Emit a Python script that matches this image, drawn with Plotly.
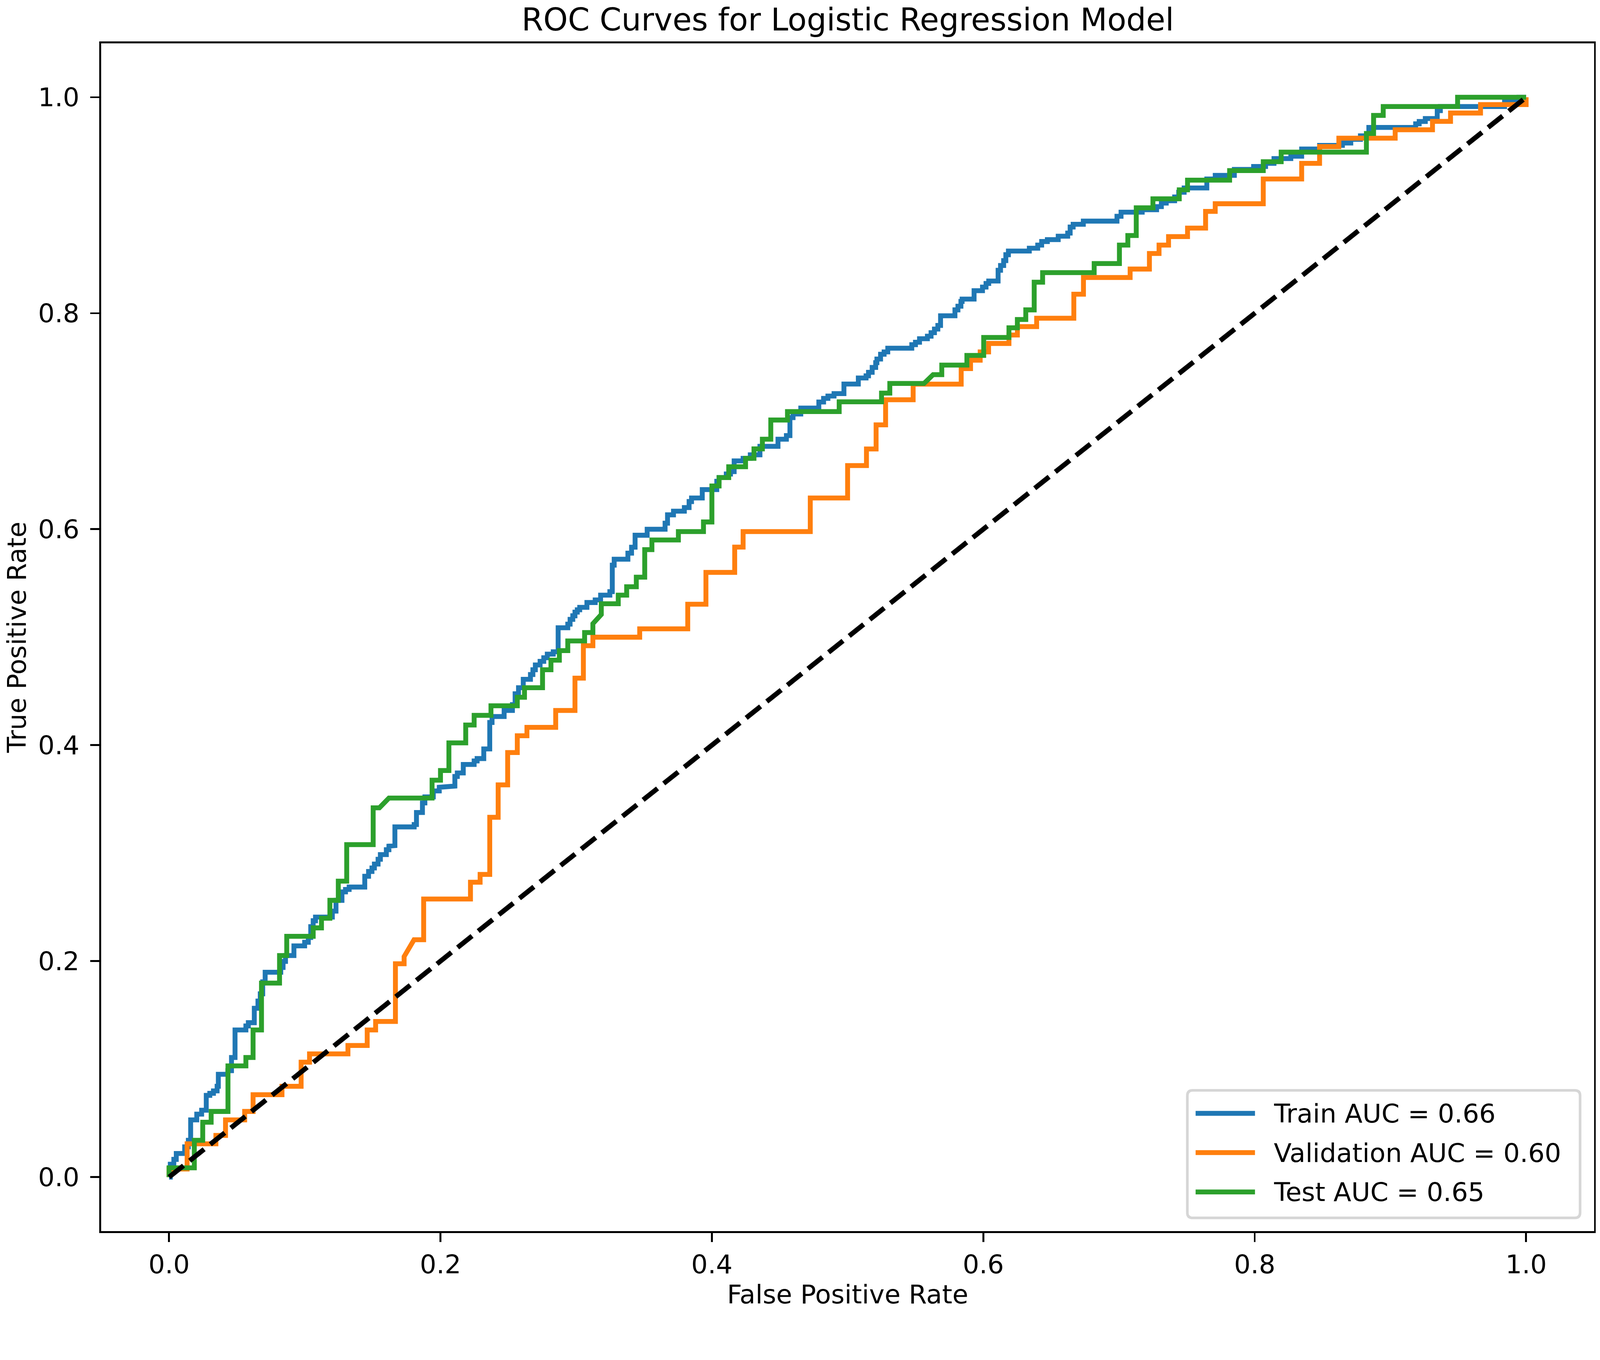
import plotly.graph_objects as go

# ROC vertices (fpr, tpr)
train_roc = [
    (0.0, 0.0), (0.0009, 0.0), (0.0009, 0.0119), (0.0035, 0.0119), (0.0035, 0.0164),
    (0.0053, 0.0164), (0.0053, 0.0219), (0.0115, 0.0219), (0.0115, 0.0280), (0.0142, 0.0280),
    (0.0142, 0.0341), (0.0159, 0.0341), (0.0159, 0.0530), (0.0204, 0.0530), (0.0204, 0.0583),
    (0.0240, 0.0583), (0.0240, 0.0619), (0.0274, 0.0619), (0.0274, 0.0757), (0.0300, 0.0757),
    (0.0300, 0.0776), (0.0327, 0.0776), (0.0327, 0.0798), (0.0354, 0.0798), (0.0354, 0.0841),
    (0.0363, 0.0841), (0.0363, 0.0952), (0.0433, 0.0952), (0.0433, 0.0986), (0.0460, 0.0986),
    (0.0460, 0.1108), (0.0486, 0.1108), (0.0486, 0.1363), (0.0566, 0.1363), (0.0566, 0.1400),
    (0.0584, 0.1400), (0.0584, 0.1430), (0.0628, 0.1430), (0.0628, 0.1563), (0.0655, 0.1563),
    (0.0655, 0.1630), (0.0672, 0.1630), (0.0672, 0.1697), (0.0690, 0.1697), (0.0690, 0.1808),
    (0.0708, 0.1808), (0.0708, 0.1897), (0.0823, 0.1897), (0.0823, 0.1941), (0.0840, 0.1941),
    (0.0840, 0.1997), (0.0858, 0.1997), (0.0858, 0.2052), (0.0920, 0.2052), (0.0920, 0.2141),
    (0.0999, 0.2141), (0.0999, 0.2175), (0.1026, 0.2175), (0.1026, 0.2219), (0.1044, 0.2219),
    (0.1044, 0.2319), (0.1062, 0.2319), (0.1062, 0.2374), (0.1079, 0.2374), (0.1079, 0.2408),
    (0.1203, 0.2408), (0.1203, 0.2463), (0.1230, 0.2463), (0.1230, 0.2563), (0.1274, 0.2563),
    (0.1274, 0.2641), (0.1300, 0.2641), (0.1300, 0.2664), (0.1327, 0.2664), (0.1327, 0.2686),
    (0.1442, 0.2686), (0.1442, 0.2786), (0.1470, 0.2786), (0.1470, 0.2830), (0.1495, 0.2830),
    (0.1495, 0.2863), (0.1513, 0.2863), (0.1513, 0.2899), (0.1540, 0.2899), (0.1540, 0.2943),
    (0.1557, 0.2943), (0.1557, 0.2987), (0.1601, 0.2987), (0.1601, 0.3032), (0.1620, 0.3032),
    (0.1620, 0.3065), (0.1655, 0.3065), (0.1655, 0.3070), (0.1664, 0.3070), (0.1664, 0.3243),
    (0.1806, 0.3243), (0.1806, 0.3265), (0.1823, 0.3265), (0.1823, 0.3376), (0.1867, 0.3376),
    (0.1867, 0.3465), (0.1885, 0.3465), (0.1885, 0.3521), (0.1947, 0.3521), (0.1947, 0.3576),
    (0.1991, 0.3576), (0.1991, 0.3610), (0.2027, 0.3610), (0.2027, 0.3621), (0.2106, 0.3621),
    (0.2106, 0.3710), (0.2124, 0.3710), (0.2124, 0.3743), (0.2168, 0.3743), (0.2168, 0.3821),
    (0.2248, 0.3821), (0.2248, 0.3854), (0.2270, 0.3854), (0.2270, 0.3876), (0.2319, 0.3876),
    (0.2319, 0.3965), (0.2363, 0.3965), (0.2363, 0.4210), (0.2380, 0.4210), (0.2380, 0.4265),
    (0.2469, 0.4265), (0.2469, 0.4321), (0.2530, 0.4321), (0.2530, 0.4376), (0.2550, 0.4376),
    (0.2550, 0.4476), (0.2575, 0.4476), (0.2575, 0.4532), (0.2610, 0.4532), (0.2610, 0.4610),
    (0.2663, 0.4610), (0.2663, 0.4654), (0.2681, 0.4654), (0.2681, 0.4698), (0.2699, 0.4698),
    (0.2699, 0.4743), (0.2734, 0.4743), (0.2734, 0.4776), (0.2761, 0.4776), (0.2761, 0.4810),
    (0.2787, 0.4810), (0.2787, 0.4843), (0.2831, 0.4843), (0.2831, 0.4865), (0.2867, 0.4865),
    (0.2867, 0.5087), (0.2938, 0.5087), (0.2938, 0.5121), (0.2955, 0.5121), (0.2955, 0.5165),
    (0.2975, 0.5165), (0.2975, 0.5198), (0.2991, 0.5198), (0.2991, 0.5232), (0.3008, 0.5232),
    (0.3008, 0.5254), (0.3026, 0.5254), (0.3026, 0.5276), (0.3079, 0.5276), (0.3079, 0.5321),
    (0.3140, 0.5321), (0.3140, 0.5345), (0.3180, 0.5345), (0.3180, 0.5389), (0.3248, 0.5389),
    (0.3248, 0.5422), (0.3266, 0.5422), (0.3266, 0.5667), (0.3280, 0.5667), (0.3280, 0.5722),
    (0.3381, 0.5722), (0.3381, 0.5778), (0.3408, 0.5778), (0.3408, 0.5833), (0.3434, 0.5833),
    (0.3434, 0.5944), (0.3523, 0.5944), (0.3523, 0.6000), (0.3655, 0.6000), (0.3655, 0.6056),
    (0.3673, 0.6056), (0.3673, 0.6133), (0.3717, 0.6133), (0.3717, 0.6167), (0.3797, 0.6167),
    (0.3797, 0.6200), (0.3832, 0.6200), (0.3832, 0.6256), (0.3850, 0.6256), (0.3850, 0.6289),
    (0.3929, 0.6289), (0.3929, 0.6367), (0.4036, 0.6367), (0.4036, 0.6444), (0.4053, 0.6444),
    (0.4053, 0.6478), (0.4106, 0.6478), (0.4106, 0.6511), (0.4137, 0.6511), (0.4137, 0.6533),
    (0.4164, 0.6533), (0.4164, 0.6633), (0.4230, 0.6633), (0.4230, 0.6656), (0.4283, 0.6656),
    (0.4283, 0.6689), (0.4354, 0.6689), (0.4354, 0.6767), (0.4487, 0.6767), (0.4487, 0.6833),
    (0.4549, 0.6833), (0.4549, 0.6867), (0.4575, 0.6867), (0.4575, 0.7033), (0.4598, 0.7033),
    (0.4598, 0.7067), (0.4655, 0.7067), (0.4655, 0.7122), (0.4788, 0.7122), (0.4788, 0.7178),
    (0.4823, 0.7178), (0.4823, 0.7211), (0.4855, 0.7211), (0.4855, 0.7233), (0.4900, 0.7233),
    (0.4900, 0.7256), (0.4973, 0.7256), (0.4973, 0.7344), (0.5079, 0.7344), (0.5079, 0.7400),
    (0.5136, 0.7400), (0.5136, 0.7420), (0.5154, 0.7420), (0.5154, 0.7453), (0.5181, 0.7453),
    (0.5181, 0.7498), (0.5207, 0.7498), (0.5207, 0.7542), (0.5216, 0.7542), (0.5216, 0.7576),
    (0.5243, 0.7576), (0.5243, 0.7620), (0.5269, 0.7620), (0.5269, 0.7642), (0.5296, 0.7642),
    (0.5296, 0.7676), (0.5473, 0.7676), (0.5473, 0.7709), (0.5500, 0.7709), (0.5500, 0.7731),
    (0.5530, 0.7731), (0.5530, 0.7764), (0.5588, 0.7764), (0.5588, 0.7787), (0.5615, 0.7787),
    (0.5615, 0.7820), (0.5640, 0.7820), (0.5640, 0.7853), (0.5665, 0.7853), (0.5665, 0.7887),
    (0.5685, 0.7887), (0.5685, 0.7976), (0.5791, 0.7976), (0.5791, 0.8031), (0.5813, 0.8031),
    (0.5813, 0.8065), (0.5835, 0.8065), (0.5835, 0.8109), (0.5844, 0.8109), (0.5844, 0.8131),
    (0.5932, 0.8131), (0.5932, 0.8209), (0.5994, 0.8209), (0.5994, 0.8242), (0.6020, 0.8242),
    (0.6020, 0.8276), (0.6040, 0.8276), (0.6040, 0.8298), (0.6109, 0.8298), (0.6109, 0.8398),
    (0.6127, 0.8398), (0.6127, 0.8442), (0.6150, 0.8442), (0.6150, 0.8487), (0.6166, 0.8487),
    (0.6166, 0.8542), (0.6185, 0.8542), (0.6185, 0.8576), (0.6339, 0.8576), (0.6339, 0.8602),
    (0.6401, 0.8602), (0.6401, 0.8631), (0.6430, 0.8631), (0.6430, 0.8664), (0.6472, 0.8664),
    (0.6472, 0.8682), (0.6552, 0.8682), (0.6552, 0.8713), (0.6622, 0.8713), (0.6622, 0.8742),
    (0.6640, 0.8742), (0.6640, 0.8798), (0.6662, 0.8798), (0.6662, 0.8824), (0.6737, 0.8824),
    (0.6737, 0.8853), (0.6985, 0.8853), (0.6985, 0.8898), (0.7015, 0.8898), (0.7015, 0.8936),
    (0.7171, 0.8936), (0.7171, 0.8958), (0.7277, 0.8958), (0.7277, 0.8987), (0.7312, 0.8987),
    (0.7312, 0.9020), (0.7348, 0.9020), (0.7348, 0.9042), (0.7410, 0.9042), (0.7410, 0.9077),
    (0.7440, 0.9077), (0.7440, 0.9120), (0.7480, 0.9120), (0.7480, 0.9160), (0.7647, 0.9160),
    (0.7647, 0.9243), (0.7709, 0.9243), (0.7709, 0.9277), (0.7850, 0.9277), (0.7850, 0.9332),
    (0.7992, 0.9332), (0.7992, 0.9359), (0.8080, 0.9359), (0.8080, 0.9388), (0.8142, 0.9388),
    (0.8142, 0.9432), (0.8266, 0.9432), (0.8266, 0.9454), (0.8346, 0.9454), (0.8346, 0.9521),
    (0.8478, 0.9521), (0.8478, 0.9554), (0.8646, 0.9554), (0.8646, 0.9576), (0.8708, 0.9576),
    (0.8708, 0.9610), (0.8779, 0.9610), (0.8779, 0.9643), (0.8841, 0.9643), (0.8841, 0.9721),
    (0.9186, 0.9721), (0.9186, 0.9754), (0.9212, 0.9754), (0.9212, 0.9776), (0.9257, 0.9776),
    (0.9257, 0.9803), (0.9345, 0.9803), (0.9345, 0.9876), (0.9368, 0.9876), (0.9368, 0.9914),
    (0.9841, 0.9914), (0.9841, 0.9958), (0.9947, 0.9958), (0.9947, 1.0), (1.0, 1.0),
]

val_roc = [
    (0.0, 0.0), (0.0, 0.0075), (0.0133, 0.0075), (0.0133, 0.0308), (0.0345, 0.0308),
    (0.0345, 0.0386), (0.0416, 0.0386), (0.0416, 0.0530), (0.0557, 0.0530), (0.0557, 0.0608),
    (0.0619, 0.0608), (0.0619, 0.0763), (0.0832, 0.0763), (0.0832, 0.0841), (0.0973, 0.0841),
    (0.0973, 0.1064), (0.1035, 0.1064), (0.1035, 0.1141), (0.1318, 0.1141), (0.1318, 0.1219),
    (0.1460, 0.1219), (0.1460, 0.1363), (0.1522, 0.1363), (0.1522, 0.1441), (0.1668, 0.1441),
    (0.1668, 0.1976), (0.1732, 0.1976), (0.1732, 0.2042), (0.1805, 0.2198), (0.1876, 0.2198),
    (0.1876, 0.2575), (0.2221, 0.2575), (0.2221, 0.2731), (0.2292, 0.2731), (0.2292, 0.2803),
    (0.2363, 0.2803), (0.2363, 0.3332), (0.2425, 0.3332), (0.2425, 0.3632), (0.2495, 0.3632),
    (0.2495, 0.3932), (0.2566, 0.3932), (0.2566, 0.4087), (0.2637, 0.4087), (0.2637, 0.4165),
    (0.2849, 0.4165), (0.2849, 0.4321), (0.2991, 0.4321), (0.2991, 0.4621), (0.3053, 0.4621),
    (0.3053, 0.4921), (0.3123, 0.4921), (0.3123, 0.5000), (0.3468, 0.5000), (0.3468, 0.5077),
    (0.3822, 0.5077), (0.3822, 0.5305), (0.3956, 0.5305), (0.3956, 0.5600), (0.4168, 0.5600),
    (0.4168, 0.5834), (0.4230, 0.5834), (0.4230, 0.5978), (0.4725, 0.5978), (0.4725, 0.6289),
    (0.5000, 0.6289), (0.5000, 0.6589), (0.5139, 0.6589), (0.5139, 0.6743), (0.5210, 0.6743),
    (0.5210, 0.6966), (0.5280, 0.6966), (0.5280, 0.7199), (0.5483, 0.7199), (0.5483, 0.7343),
    (0.5837, 0.7343), (0.5837, 0.7487), (0.5906, 0.7487), (0.5906, 0.7565), (0.5977, 0.7565),
    (0.5977, 0.7642), (0.6039, 0.7642), (0.6039, 0.7720), (0.6189, 0.7720), (0.6189, 0.7798),
    (0.6251, 0.7798), (0.6251, 0.7876), (0.6393, 0.7876), (0.6393, 0.7954), (0.6667, 0.7954),
    (0.6667, 0.8176), (0.6738, 0.8176), (0.6738, 0.8331), (0.7082, 0.8331), (0.7082, 0.8409),
    (0.7224, 0.8409), (0.7224, 0.8553), (0.7295, 0.8553), (0.7295, 0.8631), (0.7365, 0.8631),
    (0.7365, 0.8710), (0.7505, 0.8710), (0.7505, 0.8788), (0.7638, 0.8788), (0.7638, 0.8943),
    (0.7709, 0.8943), (0.7709, 0.9014), (0.8063, 0.9014), (0.8063, 0.9243), (0.8346, 0.9243),
    (0.8346, 0.9388), (0.8478, 0.9388), (0.8478, 0.9543), (0.8620, 0.9543), (0.8620, 0.9621),
    (0.9035, 0.9621), (0.9035, 0.9699), (0.9310, 0.9699), (0.9310, 0.9777), (0.9443, 0.9777),
    (0.9443, 0.9854), (0.9664, 0.9854), (0.9664, 0.9932), (1.0, 0.9932), (1.0, 1.0),
]

test_roc = [
    (0.0, 0.0), (0.0, 0.0086), (0.0186, 0.0086), (0.0186, 0.0341), (0.0248, 0.0341),
    (0.0248, 0.0508), (0.0310, 0.0508), (0.0310, 0.0608), (0.0434, 0.0608), (0.0434, 0.1030),
    (0.0566, 0.1030), (0.0566, 0.1108), (0.0619, 0.1108), (0.0619, 0.1363), (0.0681, 0.1363),
    (0.0681, 0.1797), (0.0814, 0.1797), (0.0814, 0.2052), (0.0867, 0.2052), (0.0867, 0.2230),
    (0.1062, 0.2230), (0.1062, 0.2308), (0.1123, 0.2308), (0.1123, 0.2397), (0.1185, 0.2397),
    (0.1185, 0.2563), (0.1247, 0.2563), (0.1247, 0.2741), (0.1309, 0.2741), (0.1309, 0.3079),
    (0.1504, 0.3079), (0.1504, 0.3420), (0.1550, 0.3420), (0.1620, 0.3510), (0.1938, 0.3510),
    (0.1938, 0.3676), (0.2000, 0.3676), (0.2000, 0.3765), (0.2062, 0.3765), (0.2062, 0.4021),
    (0.2186, 0.4021), (0.2186, 0.4187), (0.2248, 0.4187), (0.2248, 0.4276), (0.2372, 0.4276),
    (0.2372, 0.4365), (0.2566, 0.4365), (0.2566, 0.4443), (0.2619, 0.4443), (0.2619, 0.4532),
    (0.2752, 0.4532), (0.2752, 0.4698), (0.2814, 0.4698), (0.2814, 0.4787), (0.2876, 0.4787),
    (0.2876, 0.4876), (0.2938, 0.4876), (0.2938, 0.4965), (0.3062, 0.4965), (0.3062, 0.5043),
    (0.3123, 0.5043), (0.3123, 0.5125), (0.3185, 0.5210), (0.3185, 0.5310), (0.3310, 0.5310),
    (0.3310, 0.5389), (0.3372, 0.5389), (0.3372, 0.5467), (0.3443, 0.5467), (0.3443, 0.5556),
    (0.3505, 0.5556), (0.3505, 0.5811), (0.3558, 0.5811), (0.3558, 0.5900), (0.3753, 0.5900),
    (0.3753, 0.5978), (0.3938, 0.5978), (0.3938, 0.6067), (0.4000, 0.6067), (0.4000, 0.6400),
    (0.4053, 0.6400), (0.4053, 0.6478), (0.4124, 0.6478), (0.4124, 0.6578), (0.4248, 0.6578),
    (0.4248, 0.6656), (0.4310, 0.6656), (0.4310, 0.6744), (0.4372, 0.6744), (0.4372, 0.6833),
    (0.4434, 0.6833), (0.4434, 0.7011), (0.4557, 0.7011), (0.4557, 0.7089), (0.4938, 0.7089),
    (0.4938, 0.7180), (0.5250, 0.7180), (0.5250, 0.7260), (0.5311, 0.7260), (0.5311, 0.7350),
    (0.5563, 0.7350), (0.5630, 0.7431), (0.5694, 0.7431), (0.5694, 0.7520), (0.5879, 0.7520),
    (0.5879, 0.7609), (0.6003, 0.7609), (0.6003, 0.7776), (0.6189, 0.7776), (0.6189, 0.7865),
    (0.6251, 0.7865), (0.6251, 0.7942), (0.6313, 0.7942), (0.6313, 0.8031), (0.6375, 0.8031),
    (0.6375, 0.8287), (0.6437, 0.8287), (0.6437, 0.8376), (0.6817, 0.8376), (0.6817, 0.8460),
    (0.7003, 0.8460), (0.7003, 0.8631), (0.7065, 0.8631), (0.7065, 0.8720), (0.7127, 0.8720),
    (0.7127, 0.8976), (0.7250, 0.8976), (0.7250, 0.9060), (0.7444, 0.9060), (0.7444, 0.9143),
    (0.7505, 0.9143), (0.7505, 0.9232), (0.7815, 0.9232), (0.7815, 0.9321), (0.8063, 0.9321),
    (0.8063, 0.9403), (0.8195, 0.9403), (0.8195, 0.9492), (0.8823, 0.9492), (0.8823, 0.9665),
    (0.8876, 0.9665), (0.8876, 0.9832), (0.8947, 0.9832), (0.8947, 0.9914), (0.9495, 0.9914),
    (0.9495, 1.0), (1.0, 1.0),
]

series_names = ["Train", "Validation", "Test"]
auc_values = [0.66, 0.60, 0.65]
series_colors = ["#1f77b4", "#ff7f0e", "#2ca02c"]
chance_fpr = [0.0, 1.0]
chance_tpr = [0.0, 1.0]
tick_values = [0.0, 0.2, 0.4, 0.6, 0.8, 1.0]

# %%
# pixel layout of the reference (4252 x 3482 image)
W, H = 4252, 3482
PL, PR, PT, PB = 269, 4241, 115, 3272
FONT = "DejaVu Sans"
FS = 69
LW = 13


def fx(px):
    return (px - PL) / (PR - PL)


def fy(py):
    return (PB - py) / (PB - PT)


fig = go.Figure()
for roc, name, auc, color in zip([train_roc, val_roc, test_roc],
                                 series_names, auc_values, series_colors):
    fpr, tpr = zip(*roc)
    fig.add_trace(
        go.Scatter(
            x=fpr, y=tpr, mode="lines",
            line=dict(color=color, width=LW),
            name=f"{name} AUC = {auc:.2f}",
            showlegend=False,
        )
    )
fig.add_trace(
    go.Scatter(
        x=chance_fpr, y=chance_tpr, mode="lines",
        line=dict(color="black", width=LW, dash="49px,21px"),
        showlegend=False,
    )
)

# legend drawn by hand so the line samples keep matplotlib's length
x0, x1 = fx(3159), fx(4204)
y0, y1 = fy(3237), fy(2898)
rx, ry = 14 / (PR - PL), 14 / (PB - PT)
box = (f"M {x0+rx},{y0} L {x1-rx},{y0} Q {x1},{y0} {x1},{y0+ry} "
       f"L {x1},{y1-ry} Q {x1},{y1} {x1-rx},{y1} L {x0+rx},{y1} "
       f"Q {x0},{y1} {x0},{y1-ry} L {x0},{y0+ry} Q {x0},{y0} {x0+rx},{y0} Z")
shapes = [dict(type="path", path=box, xref="paper", yref="paper",
               fillcolor="rgba(255,255,255,0.8)",
               line=dict(color="rgba(204,204,204,0.8)", width=7))]
annotations = []
for i, (name, auc, color) in enumerate(zip(series_names, auc_values, series_colors)):
    row_y = fy(2959 + i * 104.5)
    shapes.append(dict(type="line", xref="paper", yref="paper",
                       x0=fx(3181), x1=fx(3339), y0=row_y, y1=row_y,
                       line=dict(color=color, width=LW)))
    annotations.append(dict(text=f"{name} AUC = {auc:.2f}", xref="paper", yref="paper",
                            x=fx(3387), y=row_y, xanchor="left", yanchor="middle",
                            showarrow=False, font=dict(size=FS, color="black", family=FONT)))

annotations += [
    dict(text="ROC Curves for Logistic Regression Model", xref="paper", yref="paper",
         x=0.5, y=fy(53), xanchor="center", yanchor="middle", showarrow=False,
         font=dict(size=83, color="black", family=FONT)),
    dict(text="False Positive Rate", xref="paper", yref="paper",
         x=0.5, y=fy(3440), xanchor="center", yanchor="middle", showarrow=False,
         font=dict(size=FS, color="black", family=FONT)),
    dict(text="True Positive Rate", xref="paper", yref="paper",
         x=fx(44), y=0.5, xanchor="center", yanchor="middle", textangle=-90,
         showarrow=False, font=dict(size=FS, color="black", family=FONT)),
]

axis_style = dict(
    range=[-0.05, 1.05], tickvals=tick_values, tickformat=".1f",
    showgrid=False, zeroline=False, showline=True, mirror=True,
    linecolor="black", linewidth=5.3, ticks="outside", ticklen=24,
    tickwidth=5.3, tickcolor="black",
    tickfont=dict(size=FS, color="black", family=FONT),
)
fig.update_layout(
    width=W, height=H,
    margin=dict(l=PL, r=W - PR, t=PT, b=H - PB, pad=0),
    paper_bgcolor="white", plot_bgcolor="white",
    font=dict(family=FONT, color="black"),
    shapes=shapes, annotations=annotations,
    xaxis=dict(axis_style, ticklabelstandoff=0),
    yaxis=dict(axis_style, ticklabelstandoff=15),
)

# fit the fixed-size figure into whatever viewport the page gets
fit_page = (
    "document.body.style.margin='0';"
    "document.body.style.overflow='hidden';"
    "var gd=document.getElementById('{plot_id}');"
    f"var s=Math.min(window.innerWidth/{W}, window.innerHeight/{H});"
    "gd.style.transformOrigin='0 0';"
    "gd.style.transform='scale('+s+')';"
)
fig.write_html("out.html", post_script=fit_page,
               config={"displayModeBar": False})
